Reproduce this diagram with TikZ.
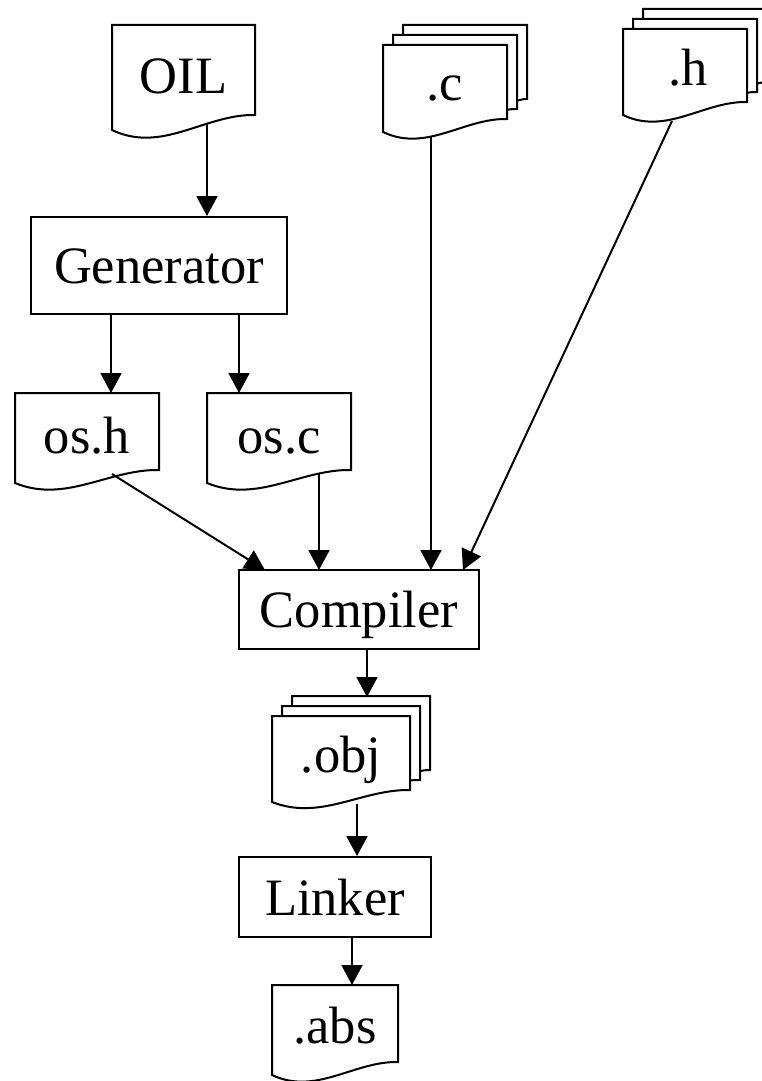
\documentclass[tikz,border=0pt]{standalone}
\usepackage{fontspec}
\setmainfont{Liberation Serif}
\usetikzlibrary{arrows.meta,calc}

% document sheet with a wavy lower edge:
% #1 left, #2 top, #3 right, #4 lower end of the right side, #5 extra drop of the left side
\newcommand\docsheet[5]{%
  \path[sheet] (#1,#2) -- (#3,#2) -- (#3,#4)
    .. controls ({#1+0.65*(#3-#1)},{#4+#5-1.07*#5}) and ({#1+0.35*(#3-#1)},{#4+#5+1.6*#5})
    .. (#1,{#4+#5}) -- cycle;}
% stack of three sheets, front sheet given, the others shifted up and right
\newcommand\docstack[5]{%
  \docsheet{#1+20}{#2-20}{#3+20}{#4-20}{#5}%
  \docsheet{#1+10}{#2-10}{#3+10}{#4-10}{#5}%
  \docsheet{#1}{#2}{#3}{#4}{#5}}

\tikzset{
  sheet/.style={draw, line width=2pt, fill=white, line join=miter},
  lbl/.style={font=\fontsize{52.5}{60}\selectfont, inner sep=0pt, anchor=base},
  box/.style={draw, line width=2pt, fill=white, rectangle, inner sep=0pt,
    font=\fontsize{52.5}{60}\selectfont, text height=36pt, text depth=0pt},
  flow/.style={line width=2pt, -{Triangle[width=21pt,length=20pt]}},
}

\begin{document}
\begin{tikzpicture}[x=1pt,y=-1pt]
\useasboundingbox (0,0) rectangle (762,1081);

% source documents
\docsheet{112}{25}{255}{115}{15}
\node[lbl] (oil) at (183.5,93) {OIL};
\coordinate (oil-out) at (207,123);

\docstack{383}{45}{507}{119}{13}
\node[lbl] (csrc) at (445,100) {.c};
\coordinate (csrc-out) at (431,137);

\docstack{623}{29}{747}{102}{13}
\node[lbl] (hsrc) at (688,85) {.h};
\coordinate (hsrc-out) at (672,121);

% generator and its outputs
\node[box, minimum width=256pt, minimum height=97pt] (gen) at (159,265.5) {Generator};

\docsheet{15}{393}{159}{470}{13}
\node[lbl] (osh) at (87,453) {os.h};
\coordinate (osh-in) at (111,393);
\coordinate (osh-out) at (112,474);

\docsheet{207}{393}{351}{470}{13}
\node[lbl] (osc) at (279,453) {os.c};
\coordinate (osc-in) at (239,393);
\coordinate (osc-out) at (319,474);

% compiler
\node[box, minimum width=240pt, minimum height=79pt] (cmp) at (359,609.5) {Compiler};
\coordinate (cmp-a) at (265,570);
\coordinate (cmp-b) at (319,570);
\coordinate (cmp-c) at (431,570);
\coordinate (cmp-d) at (463,570);
\coordinate (cmp-out) at (367,649);

\docstack{272}{716}{410}{790}{12}
\node[lbl] (obj) at (341,772) {.obj};
\coordinate (obj-in) at (367,697);
\coordinate (obj-out) at (357,804);

% linker and result
\node[box, minimum width=192pt, minimum height=80pt] (lnk) at (335,897) {Linker};

\docsheet{272}{985}{398}{1062}{13}
\node[lbl] (abs) at (335,1043) {.abs};
\coordinate (abs-in) at (352,985);

% connectors
\draw[flow] (oil-out) -- (oil-out |- gen.north);
\draw[flow] (gen.south -| osh-in) -- (osh-in);
\draw[flow] (gen.south -| osc-in) -- (osc-in);
\draw[flow] (osh-out) -- (cmp-a);
\draw[flow] (osc-out) -- (cmp-b);
\draw[flow] (csrc-out) -- (cmp-c);
\draw[flow] (hsrc-out) -- (cmp-d);
\draw[flow] (cmp-out) -- (obj-in);
\draw[flow] (obj-out) -- (obj-out |- lnk.north);
\draw[flow] (lnk.south -| abs-in) -- (abs-in);
\end{tikzpicture}
\end{document}
